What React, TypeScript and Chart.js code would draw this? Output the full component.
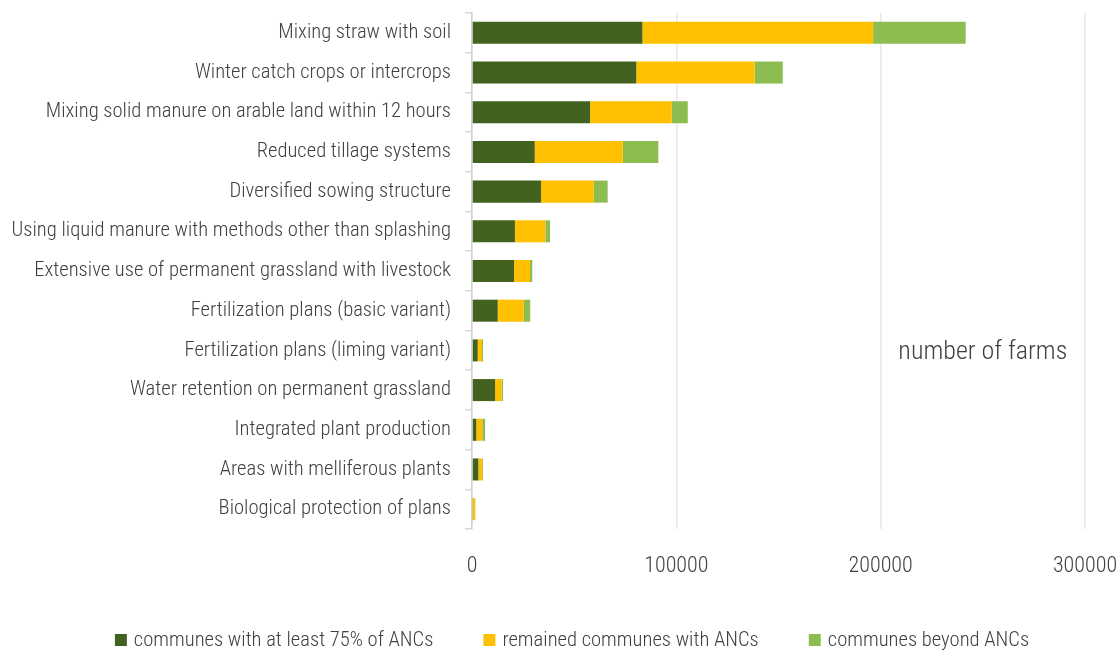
import React, { useEffect, useRef } from "react";
import { Chart, registerables } from "chart.js";

Chart.register(...registerables);

const categories = [
  "Mixing straw with soil",
  "Winter catch crops or intercrops",
  "Mixing solid manure on arable land within 12 hours",
  "Reduced tillage systems",
  "Diversified sowing structure",
  "Using liquid manure with methods other than splashing",
  "Extensive use of permanent grassland with livestock",
  "Fertilization plans (basic variant)",
  "Fertilization plans (liming variant)",
  "Water retention on permanent grassland",
  "Integrated plant production",
  "Areas with melliferous plants",
  "Biological protection of plans",
];

const seriesNames = [
  "communes with at least 75% of ANCs",
  "remained communes with ANCs",
  "communes beyond ANCs",
];

const anc75 = [83400, 80400, 57800, 30700, 33800, 21000, 20600, 12600, 2800, 11300, 2100, 3100, 300];
const ancRemained = [112900, 58000, 39900, 43100, 25800, 14900, 7800, 12700, 2100, 3200, 2900, 1900, 1200];
const beyondAnc = [45300, 13700, 7900, 17400, 6800, 2300, 1100, 3200, 500, 700, 1400, 400, 100];

const xTickValues = [0, 100000, 200000, 300000];
const axisTitle = "number of farms";

const FONT = "'Roboto Condensed', 'Liberation Sans Narrow', 'DejaVu Sans Condensed', Roboto, sans-serif";
const TEXT = "#404040";

export default function App() {
  const ref = useRef<HTMLCanvasElement | null>(null);

  useEffect(() => {
    if (!ref.current) return;
    const titlePlugin = {
      id: "insideTitle",
      afterDraw(chart: any) {
        const { ctx, scales } = chart;
        const x = scales.x.getPixelForValue(250000);
        const y = scales.y.getPixelForValue(8) + 2;
        ctx.save();
        ctx.font = `300 26px ${FONT}`;
        ctx.fillStyle = TEXT;
        ctx.textAlign = "center";
        ctx.textBaseline = "middle";
        ctx.fillText(axisTitle, x, y);
        ctx.restore();
      },
    };
    const legendPlugin = {
      id: "bottomLegend",
      afterDraw(chart: any) {
        const { ctx } = chart;
        const box = 12;
        const textGap = 7;
        const itemGap = 50;
        const centerX = 572;
        const y = 640;
        ctx.save();
        ctx.font = `300 20.6px ${FONT}`;
        ctx.textBaseline = "middle";
        ctx.textAlign = "left";
        const items = chart.data.datasets.map((d: any) => ({
          label: d.label as string,
          color: d.backgroundColor as string,
          w: box + textGap + ctx.measureText(d.label).width,
        }));
        const total = items.reduce((s: number, it: any) => s + it.w, 0) + itemGap * (items.length - 1);
        let x = centerX - total / 2;
        items.forEach((it: any) => {
          ctx.fillStyle = it.color;
          ctx.fillRect(x, y - box / 2, box, box);
          ctx.fillStyle = TEXT;
          ctx.fillText(it.label, x + box + textGap, y + 1);
          x += it.w + itemGap;
        });
        ctx.restore();
      },
    };
    const chart = new Chart(ref.current, {
      type: "bar",
      data: {
        labels: categories,
        datasets: [
          { label: seriesNames[0], data: anc75, backgroundColor: "#44621F" },
          { label: seriesNames[1], data: ancRemained, backgroundColor: "#FFC000" },
          { label: seriesNames[2], data: beyondAnc, backgroundColor: "#8DBD51" },
        ],
      },
      options: {
        indexAxis: "y",
        responsive: false,
        animation: false,
        datasets: { bar: { categoryPercentage: 1, barPercentage: 0.555 } },
        layout: { padding: { top: 13, bottom: 68, left: 0, right: 35 } },
        plugins: {
          tooltip: { enabled: false },
          legend: { display: false },
        },
        scales: {
          x: {
            stacked: true,
            min: 0,
            max: 300000,
            afterBuildTicks(scale: any) {
              scale.ticks = xTickValues.map((v) => ({ value: v }));
            },
            afterFit(scale: any) {
              scale.height = 53;
              scale.paddingLeft = 0;
              scale.paddingRight = 0;
            },
            ticks: {
              font: { family: FONT, size: 22, weight: "300" },
              color: TEXT,
              padding: 24,
              maxRotation: 0,
              callback: (v: any) => String(v),
            },
            grid: { color: "#e8e8e8", lineWidth: 1.5, drawTicks: false },
            border: { display: false },
          },
          y: {
            stacked: true,
            afterFit(scale: any) {
              scale.width = 472;
              scale.paddingTop = 0;
              scale.paddingBottom = 0;
            },
            ticks: { font: { family: FONT, size: 20.6, weight: "300" }, color: TEXT, padding: 14, autoSkip: false },
            grid: {
              drawOnChartArea: false,
              drawTicks: true,
              tickLength: 7,
              color: "#d9d9d9",
              lineWidth: 1.5,
              offset: true,
            },
            border: { display: true, color: "#d0d0d0", width: 1.5 },
          },
        },
      },
      plugins: [titlePlugin, legendPlugin],
    });
    return () => chart.destroy();
  }, []);

  return (
    <div style={{ position: "absolute", left: 0, top: 0, width: 1120, height: 650, background: "#fff" }}>
      <canvas ref={ref} width={1120} height={650} />
    </div>
  );
}
